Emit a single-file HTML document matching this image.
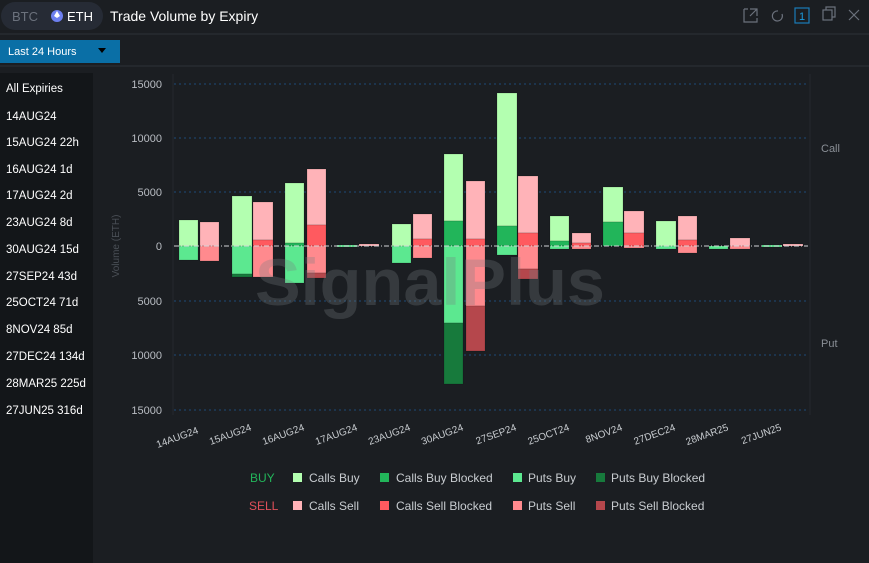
<!DOCTYPE html><html><head><meta charset="utf-8"><style>
html,body{margin:0;padding:0;background:#1b1e22;overflow:hidden}
svg{display:block;font-family:"Liberation Sans",sans-serif}
</style></head><body>
<svg width="869" height="563" viewBox="0 0 869 563" xmlns="http://www.w3.org/2000/svg">
<rect width="869" height="563" fill="#1b1e22"/>
<rect x="1" y="2" width="102" height="28" rx="14" fill="#262b35"/>
<text x="12" y="21" font-size="13" fill="#6b717c">BTC</text>
<circle cx="57" cy="16" r="6" fill="#6d7ff0"/><path d="M57 11 L60 16 L57 18 L54 16Z" fill="#fff"/>
<text x="67" y="21" font-size="13" fill="#fff">ETH</text>
<text x="110" y="21" font-size="14" fill="#fff">Trade Volume by Expiry</text>
<line x1="0" y1="34" x2="869" y2="34" stroke="#2c3138"/>
<g stroke="#6b717c" fill="none" stroke-width="1.2">
<path d="M744 9 h4 M744 9 v13 h13 v-4 M750 9 h7 v7 M757 9 l-7 7"/>
<path d="M778 11 a5 5 0 1 0 4 3"/>
<rect x="823" y="10" width="9" height="10"/><path d="M826 10 v-3 h9 v10 h-3"/>
<path d="M849 10 l10 10 M859 10 l-10 10"/>
</g>
<rect x="795" y="8" width="14" height="15" fill="none" stroke="#1a7bb8" stroke-width="1.2"/>
<text x="799" y="20" font-size="11" fill="#1a9be0">1</text>
<rect x="0" y="40" width="120" height="23" fill="#0a6fa6"/>
<text x="8" y="55" font-size="11" fill="#fff">Last 24 Hours</text>
<path d="M98 48 h8 l-4 5z" fill="#000"/>
<line x1="0" y1="66" x2="869" y2="66" stroke="#2c3138"/>
<rect x="0" y="73" width="93" height="490" fill="#131619"/>
<g font-size="11.5" fill="#fff">
<text x="6" y="92">All Expiries</text>
<text x="6" y="120">14AUG24</text>
<text x="6" y="146">15AUG24  22h</text>
<text x="6" y="173">16AUG24  1d</text>
<text x="6" y="199">17AUG24  2d</text>
<text x="6" y="226">23AUG24  8d</text>
<text x="6" y="253">30AUG24  15d</text>
<text x="6" y="280">27SEP24  43d</text>
<text x="6" y="306">25OCT24  71d</text>
<text x="6" y="333">8NOV24  85d</text>
<text x="6" y="360">27DEC24  134d</text>
<text x="6" y="387">28MAR25  225d</text>
<text x="6" y="414">27JUN25  316d</text>
</g>
<line x1="173" y1="74" x2="173" y2="415" stroke="#24282d"/>
<line x1="810" y1="74" x2="810" y2="415" stroke="#24282d"/>
<g stroke="#1c4a78" stroke-dasharray="2,3">
<line x1="174" y1="84" x2="808" y2="84"/><line x1="174" y1="138" x2="808" y2="138"/>
<line x1="174" y1="192" x2="808" y2="192"/><line x1="174" y1="301" x2="808" y2="301"/>
<line x1="174" y1="355" x2="808" y2="355"/><line x1="174" y1="410" x2="808" y2="410"/>
</g>
<g font-size="11" fill="#b9bdc3" text-anchor="end">
<text x="162" y="88">15000</text><text x="162" y="142">10000</text><text x="162" y="196">5000</text>
<text x="162" y="250">0</text><text x="162" y="305">5000</text><text x="162" y="359">10000</text><text x="162" y="414">15000</text>
</g>
<text transform="translate(119,246) rotate(-90)" font-size="10" fill="#4a4f56" text-anchor="middle">Volume (ETH)</text>
<text x="821" y="152" font-size="11" fill="#8a8f96">Call</text>
<text x="821" y="347" font-size="11" fill="#8a8f96">Put</text>
<g stroke="rgba(0,0,0,0.25)" stroke-width="0.6">
<rect x="179" y="220" width="19" height="26" fill="#b3ffb0"/><rect x="179" y="246" width="19" height="14" fill="#5ce890"/>
<rect x="200" y="222" width="19" height="24" fill="#ffb3b8"/><rect x="200" y="246" width="19" height="15" fill="#ff8a8e"/>
<rect x="232" y="196" width="20" height="50" fill="#b3ffb0"/><rect x="232" y="246" width="20" height="28" fill="#5ce890"/><rect x="232" y="274" width="20" height="3" fill="#177a3c"/>
<rect x="253" y="202" width="20" height="38" fill="#ffb3b8"/><rect x="253" y="240" width="20" height="6" fill="#ff5a5f"/><rect x="253" y="246" width="20" height="31" fill="#ff8a8e"/>
<rect x="285" y="183" width="19" height="60" fill="#b3ffb0"/><rect x="285" y="243" width="19" height="3" fill="#22b55a"/><rect x="285" y="246" width="19" height="37" fill="#5ce890"/>
<rect x="307" y="169" width="19" height="56" fill="#ffb3b8"/><rect x="307" y="225" width="19" height="21" fill="#ff5a5f"/><rect x="307" y="246" width="19" height="27" fill="#ff8a8e"/><rect x="307" y="273" width="19" height="5" fill="#b5474c"/>
<rect x="337" y="245" width="20" height="2" fill="#5ce890"/><rect x="359" y="244" width="20" height="2" fill="#ffb3b8"/>
<rect x="392" y="224" width="19" height="22" fill="#b3ffb0"/><rect x="392" y="246" width="19" height="17" fill="#5ce890"/>
<rect x="413" y="214" width="19" height="25" fill="#ffb3b8"/><rect x="413" y="239" width="19" height="7" fill="#ff5a5f"/><rect x="413" y="246" width="19" height="12" fill="#ff8a8e"/>
<rect x="444" y="154" width="19" height="67" fill="#b3ffb0"/><rect x="444" y="221" width="19" height="25" fill="#22b55a"/><rect x="444" y="246" width="19" height="77" fill="#5ce890"/><rect x="444" y="323" width="19" height="61" fill="#177a3c"/>
<rect x="466" y="181" width="19" height="58" fill="#ffb3b8"/><rect x="466" y="239" width="19" height="7" fill="#ff5a5f"/><rect x="466" y="246" width="19" height="60" fill="#ff8a8e"/><rect x="466" y="306" width="19" height="45" fill="#b5474c"/>
<rect x="497" y="93" width="20" height="133" fill="#b3ffb0"/><rect x="497" y="226" width="20" height="20" fill="#22b55a"/><rect x="497" y="246" width="20" height="9" fill="#5ce890"/>
<rect x="518" y="176" width="20" height="57" fill="#ffb3b8"/><rect x="518" y="233" width="20" height="13" fill="#ff5a5f"/><rect x="518" y="246" width="20" height="23" fill="#ff8a8e"/><rect x="518" y="269" width="20" height="10" fill="#b5474c"/>
<rect x="550" y="216" width="19" height="25" fill="#b3ffb0"/><rect x="550" y="241" width="19" height="5" fill="#22b55a"/><rect x="550" y="246" width="19" height="3" fill="#5ce890"/>
<rect x="572" y="233" width="19" height="10" fill="#ffb3b8"/><rect x="572" y="243" width="19" height="3" fill="#ff5a5f"/><rect x="572" y="246" width="19" height="3" fill="#ff8a8e"/>
<rect x="603" y="187" width="20" height="35" fill="#b3ffb0"/><rect x="603" y="222" width="20" height="24" fill="#22b55a"/>
<rect x="624" y="211" width="20" height="22" fill="#ffb3b8"/><rect x="624" y="233" width="20" height="13" fill="#ff5a5f"/><rect x="624" y="246" width="20" height="2" fill="#ff8a8e"/>
<rect x="656" y="221" width="20" height="25" fill="#b3ffb0"/><rect x="656" y="246" width="20" height="3" fill="#5ce890"/>
<rect x="678" y="216" width="19" height="24" fill="#ffb3b8"/><rect x="678" y="240" width="19" height="6" fill="#ff5a5f"/><rect x="678" y="246" width="19" height="7" fill="#ff8a8e"/>
<rect x="709" y="246" width="19" height="3" fill="#5ce890"/>
<rect x="730" y="238" width="20" height="8" fill="#ffb3b8"/><rect x="730" y="246" width="20" height="3" fill="#ff8a8e"/>
<rect x="762" y="245" width="20" height="2" fill="#5ce890"/><rect x="783" y="244" width="20" height="2" fill="#ffb3b8"/>
</g>
<line x1="174" y1="246" x2="808" y2="246" stroke="#d0d3d6" stroke-dasharray="5,2,1,2" stroke-width="1"/>
<text x="255" y="305" font-size="66" font-weight="bold" fill="rgba(120,125,130,0.3)" textLength="350" lengthAdjust="spacingAndGlyphs">SignalPlus</text>
<g font-size="10" fill="#c8ccd0" text-anchor="end">
<text transform="translate(199,433) rotate(-20)">14AUG24</text>
<text transform="translate(252,430) rotate(-20)">15AUG24</text>
<text transform="translate(305,430) rotate(-20)">16AUG24</text>
<text transform="translate(358,430) rotate(-20)">17AUG24</text>
<text transform="translate(411,430) rotate(-20)">23AUG24</text>
<text transform="translate(464,430) rotate(-20)">30AUG24</text>
<text transform="translate(517,430) rotate(-20)">27SEP24</text>
<text transform="translate(570,430) rotate(-20)">25OCT24</text>
<text transform="translate(623,430) rotate(-20)">8NOV24</text>
<text transform="translate(676,430) rotate(-20)">27DEC24</text>
<text transform="translate(729,430) rotate(-20)">28MAR25</text>
<text transform="translate(782,430) rotate(-20)">27JUN25</text>
</g>
<g font-size="12" fill="#c8ccd0">
<text x="250" y="482" fill="#22b55a">BUY</text>
<rect x="293" y="473" width="9" height="9" fill="#b3ffb0"/><text x="309" y="482">Calls Buy</text>
<rect x="380" y="473" width="9" height="9" fill="#22b55a"/><text x="396" y="482">Calls Buy Blocked</text>
<rect x="513" y="473" width="9" height="9" fill="#5ce890"/><text x="528" y="482">Puts Buy</text>
<rect x="596" y="473" width="9" height="9" fill="#177a3c"/><text x="611" y="482">Puts Buy Blocked</text>
<text x="249" y="510" fill="#e0505a">SELL</text>
<rect x="293" y="501" width="9" height="9" fill="#ffb3b8"/><text x="309" y="510">Calls Sell</text>
<rect x="380" y="501" width="9" height="9" fill="#ff5a5f"/><text x="396" y="510">Calls Sell Blocked</text>
<rect x="513" y="501" width="9" height="9" fill="#ff8a8e"/><text x="528" y="510">Puts Sell</text>
<rect x="596" y="501" width="9" height="9" fill="#b5474c"/><text x="611" y="510">Puts Sell Blocked</text>
</g>
</svg>
</body></html>
